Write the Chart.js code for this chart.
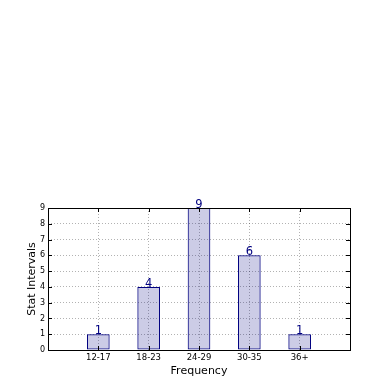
<!DOCTYPE html>
<html>
<head>
<meta charset="utf-8">
<script src="https://cdn.jsdelivr.net/npm/chart.js@4.4.1/dist/chart.umd.min.js"></script>
<style>
  html, body { margin: 0; padding: 0; background: #fff; }
  #wrap { width: 390px; height: 390px; }
</style>
</head>
<body>
<div id="wrap"><canvas id="chart" width="390" height="390"></canvas></div>
<script>
// Chart data
const categories = ['12-17', '18-23', '24-29', '30-35', '36+'];
const counts = [1, 4, 9, 6, 1];
const yTicks = [0, 1, 2, 3, 4, 5, 6, 7, 8, 9];

// an empty slot each side, so the bars sit away from the frame
const labels = [''].concat(categories, ['']);
const values = [null].concat(counts, [null]);

const navy = '#000080';

// frame, inward tick marks and the value labels above bars
const extras = {
    id: 'extras',
    afterDatasetsDraw(chart) {
        const ctx = chart.ctx;
        const a = chart.chartArea;
        const xs = chart.scales.x;
        const ys = chart.scales.y;
        ctx.save();
        ctx.strokeStyle = '#000';
        ctx.lineWidth = 1;
        ctx.setLineDash([]);
        ctx.strokeRect(Math.round(a.left) + 0.5, Math.round(a.top) + 0.5,
            Math.round(a.right - a.left), Math.round(a.bottom - a.top));

        ctx.beginPath();
        yTicks.forEach(v => {
            const y = Math.round(ys.getPixelForValue(v)) + 0.5;
            ctx.moveTo(a.left, y); ctx.lineTo(a.left + 4, y);
            ctx.moveTo(a.right, y); ctx.lineTo(a.right - 4, y);
        });
        categories.forEach((c, i) => {
            const x = Math.round(xs.getPixelForValue(i + 1)) + 0.5;
            ctx.moveTo(x, a.bottom); ctx.lineTo(x, a.bottom - 4);
            ctx.moveTo(x, a.top); ctx.lineTo(x, a.top + 4);
        });
        ctx.stroke();

        ctx.fillStyle = navy;
        ctx.font = '11.5px "DejaVu Sans"';
        ctx.textAlign = 'center';
        ctx.textBaseline = 'alphabetic';
        chart.getDatasetMeta(0).data.forEach((bar, i) => {
            if (values[i] === null) return;
            ctx.fillText(String(values[i]), bar.x, bar.y);
        });
        ctx.restore();
    }
};

const gridStyle = {
    color: 'rgba(0, 0, 0, 0.3)',
    lineWidth: 1,
    drawTicks: false,
    offset: false
};

new Chart(document.getElementById('chart'), {
    type: 'bar',
    data: {
        labels: labels,
        datasets: [{
            data: values,
            backgroundColor: 'rgba(0, 0, 128, 0.2)',
            borderColor: navy,
            borderWidth: 1,
            borderSkipped: false,
            barPercentage: 0.45,
            categoryPercentage: 1
        }]
    },
    plugins: [extras],
    options: {
        responsive: false,
        animation: false,
        devicePixelRatio: 1,
        layout: { padding: { top: 208, right: 40, left: 0, bottom: 0 } },
        plugins: {
            legend: { display: false },
            tooltip: { enabled: false }
        },
        scales: {
            x: {
                offset: false,
                grid: gridStyle,
                border: { display: false, dash: [1, 2] },
                ticks: {
                    color: '#000',
                    font: { family: 'DejaVu Sans', size: 8.5 },
                    padding: 3,
                    maxRotation: 0,
                    autoSkip: false
                },
                title: {
                    display: true,
                    text: 'Frequency',
                    color: '#000',
                    font: { family: 'DejaVu Sans', size: 11 },
                    padding: { top: 0, bottom: 12 }
                },
                afterFit(scale) { scale.height = 40; }
            },
            y: {
                min: 0,
                max: 9,
                grid: gridStyle,
                border: { display: false, dash: [1, 2] },
                ticks: {
                    stepSize: 1,
                    color: '#000',
                    font: { family: 'DejaVu Sans', size: 8 },
                    padding: 3
                },
                title: {
                    display: true,
                    text: 'Stat Intervals',
                    color: '#000',
                    font: { family: 'DejaVu Sans', size: 11 },
                    padding: { top: 26, bottom: 0 }
                },
                afterFit(scale) { scale.width = 48; }
            }
        }
    }
});
</script>
</body>
</html>
